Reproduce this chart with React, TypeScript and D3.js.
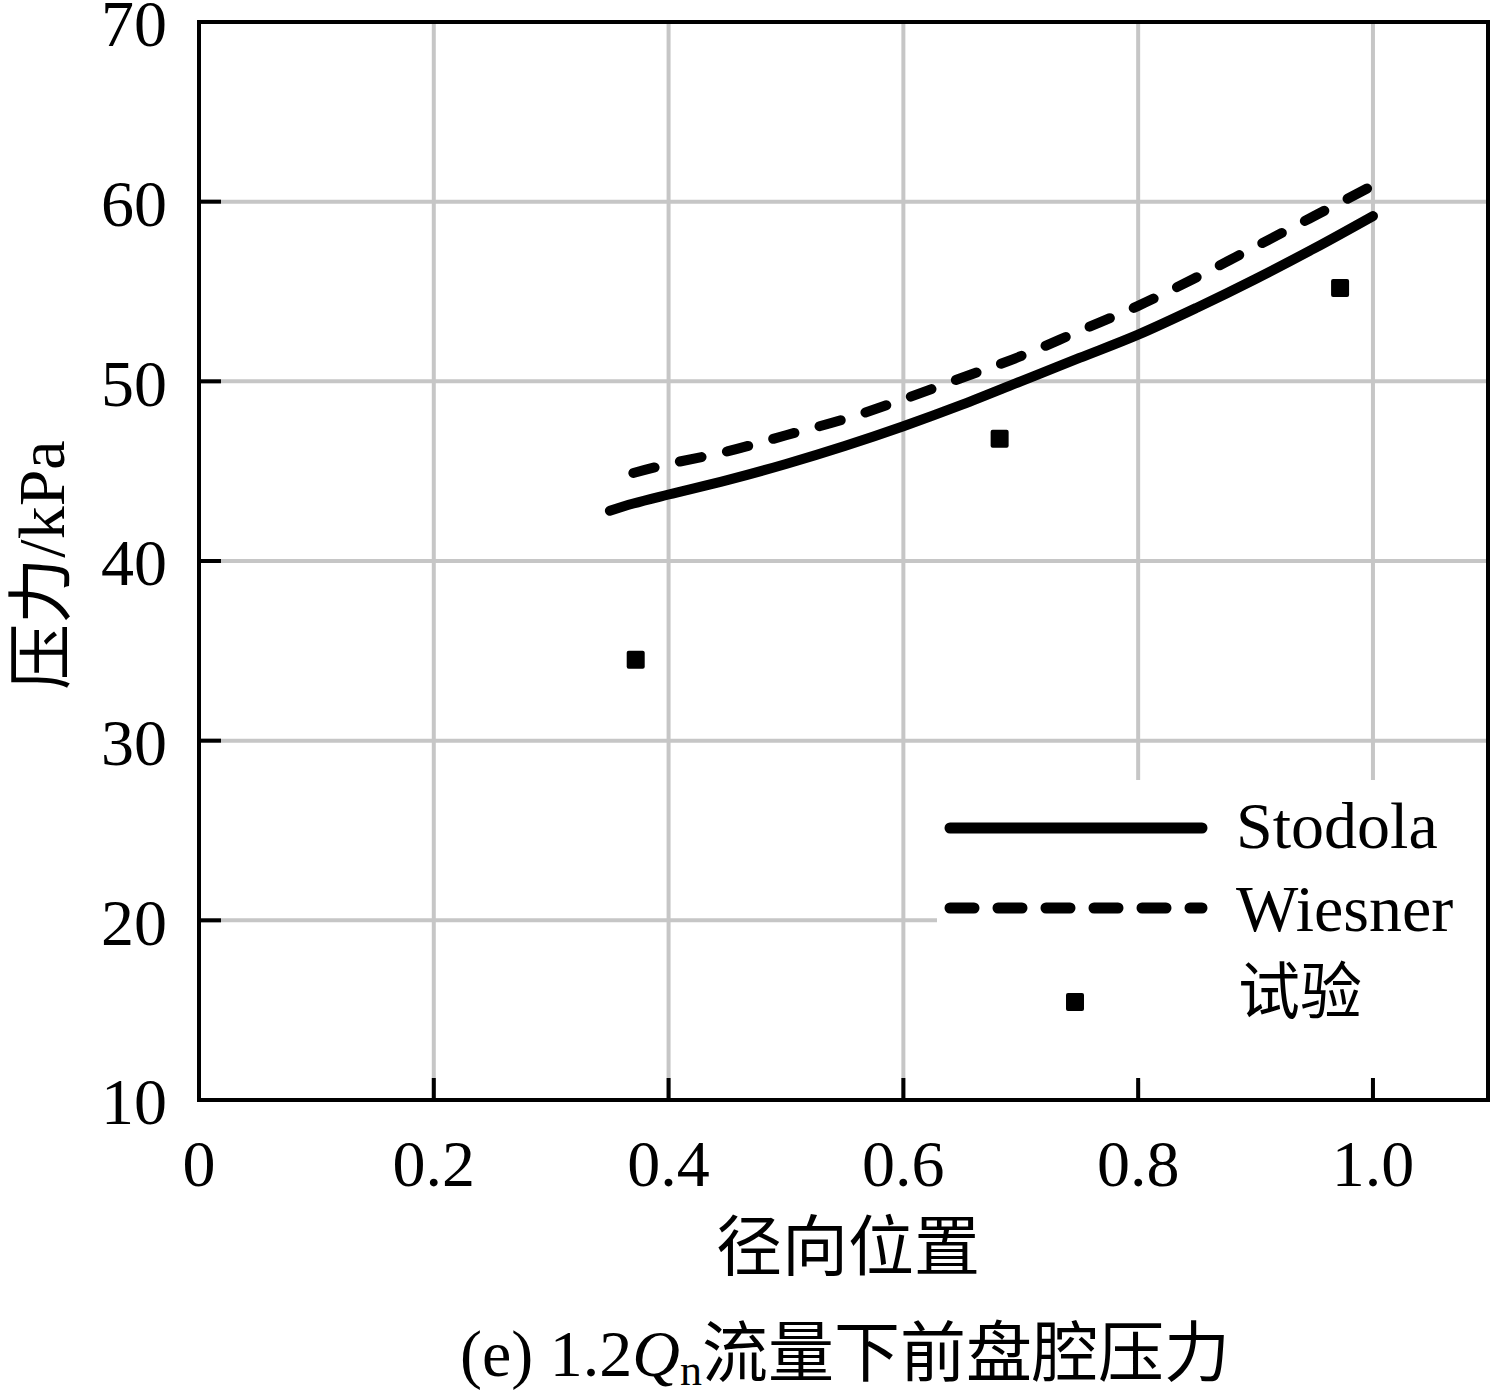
import React from "react";
import * as d3 from "d3";

const xTicks = [0, 0.2, 0.4, 0.6, 0.8, 1.0];
const xTickLabels = ["0", "0.2", "0.4", "0.6", "0.8", "1.0"];
const yTicks = [10, 20, 30, 40, 50, 60, 70];

const stodolaX = [0.35, 0.37, 0.4, 0.45, 0.5, 0.55, 0.6, 0.65, 0.7, 0.75, 0.8, 0.85, 0.9, 0.95, 1.0];
const stodolaY = [42.8, 43.2, 43.7, 44.5, 45.4, 46.4, 47.5, 48.7, 50.0, 51.3, 52.6, 54.1, 55.7, 57.4, 59.2];

const wiesnerX = [0.37, 0.4, 0.45, 0.5, 0.55, 0.6, 0.65, 0.7, 0.75, 0.8, 0.85, 0.9, 0.95, 1.0];
const wiesnerY = [44.9, 45.4, 46.1, 47.0, 47.9, 49.0, 50.2, 51.4, 52.8, 54.2, 55.8, 57.5, 59.2, 60.9];

const testX = [0.372, 0.682, 0.972];
const testY = [34.5, 46.8, 55.2];

const legendLabels = ["Stodola", "Wiesner", "试验"];

const W = 1495;
const H = 1393;
const L = 199, R = 1488, T = 22, B = 1100;
const FONT = "'Liberation Serif', 'Times New Roman', 'Noto Sans CJK SC', serif";
const CJK = "'Noto Sans CJK SC', 'Liberation Serif', serif";
const FS = 66;

export default function App() {
  const x = d3.scaleLinear().domain([0, 1.098]).range([L, R]);
  const y = d3.scaleLinear().domain([10, 70]).range([B, T]);
  const line = d3
    .line<[number, number]>()
    .x((d) => x(d[0]))
    .y((d) => y(d[1]))
    .curve(d3.curveCatmullRom.alpha(0.5));
  const sPts = stodolaX.map((v, i) => [v, stodolaY[i]] as [number, number]);
  const wPts = wiesnerX.map((v, i) => [v, wiesnerY[i]] as [number, number]);
  const grid = "#c6c6c6";
  const ms = 18;

  return (
    <svg
      width={W}
      height={H}
      style={{ position: "absolute", left: 0, top: 0, background: "#fff" }}
      fontFamily={FONT}
    >
      <rect x={0} y={0} width={W} height={H} fill="#fff" />
      {/* grid */}
      {xTicks.slice(1).map((t) => (
        <line key={"gx" + t} x1={x(t)} x2={x(t)} y1={T} y2={B} stroke={grid} strokeWidth={4} />
      ))}
      {yTicks.slice(1, -1).map((t) => (
        <line key={"gy" + t} x1={L} x2={R} y1={y(t)} y2={y(t)} stroke={grid} strokeWidth={4} />
      ))}
      {/* legend background */}
      <rect x={937} y={780} width={R - 937} height={302} fill="#fff" />
      {/* ticks */}
      {xTicks.slice(1).map((t) => (
        <line key={"tx" + t} x1={x(t)} x2={x(t)} y1={B} y2={B - 22} stroke="#000" strokeWidth={4} />
      ))}
      {yTicks.slice(1, -1).map((t) => (
        <line key={"ty" + t} x1={L} x2={L + 22} y1={y(t)} y2={y(t)} stroke="#000" strokeWidth={4} />
      ))}
      {/* frame */}
      <rect x={L} y={T} width={R - L} height={B - T} fill="none" stroke="#000" strokeWidth={4} />
      {/* curves */}
      <path d={line(sPts) || ""} fill="none" stroke="#000" strokeWidth={10} strokeLinecap="round" />
      <path
        d={line(wPts) || ""}
        fill="none"
        stroke="#000"
        strokeWidth={10}
        strokeLinecap="round"
        strokeDasharray="22 26"
      />
      {testX.map((v, i) => (
        <rect
          key={"m" + i}
          x={x(v) - ms / 2}
          y={y(testY[i]) - ms / 2}
          width={ms}
          height={ms}
          rx={2}
          fill="#000"
        />
      ))}
      {/* tick labels */}
      {yTicks.map((t) => (
        <text key={"ly" + t} x={167} y={y(t)} dy="0.37em" textAnchor="end" fontSize={FS} fill="#000">
          {t}
        </text>
      ))}
      {xTicks.map((t, i) => (
        <text key={"lx" + t} x={x(t)} y={1186} textAnchor="middle" fontSize={FS} fill="#000">
          {xTickLabels[i]}
        </text>
      ))}
      {/* legend */}
      <line x1={950} x2={1202} y1={828} y2={828} stroke="#000" strokeWidth={11} strokeLinecap="round" />
      <line
        x1={950}
        x2={1202}
        y1={908}
        y2={908}
        stroke="#000"
        strokeWidth={11}
        strokeLinecap="round"
        strokeDasharray="24 24"
      />
      <rect x={1075 - ms / 2} y={1002 - ms / 2} width={ms} height={ms} rx={2} fill="#000" />
      <text x={1236} y={848} fontSize={FS} fill="#000">{legendLabels[0]}</text>
      <text x={1236} y={931} fontSize={FS} fill="#000">{legendLabels[1]}</text>
      <text x={1238} y={1014} fontSize={62} fill="#000" fontFamily={CJK}>{legendLabels[2]}</text>
      {/* axis titles */}
      <text x={848} y={1270} textAnchor="middle" fontSize={FS} fill="#000" fontFamily={CJK}>
        径向位置
      </text>
      <text
        transform={`translate(64, 565) rotate(-90)`}
        textAnchor="middle"
        fontSize={FS}
        fill="#000"
      >
        <tspan fontFamily={CJK}>压力</tspan>
        <tspan>/kPa</tspan>
      </text>
      {/* caption */}
      <text x={845} y={1376} textAnchor="middle" fontSize={FS} fill="#000">
        <tspan>(e) 1.2</tspan>
        <tspan fontStyle="italic">Q</tspan>
        <tspan fontSize={44} dy={9}>n</tspan>
        <tspan dy={-9} fontFamily={CJK}>流量下前盘腔压力</tspan>
      </text>
    </svg>
  );
}
